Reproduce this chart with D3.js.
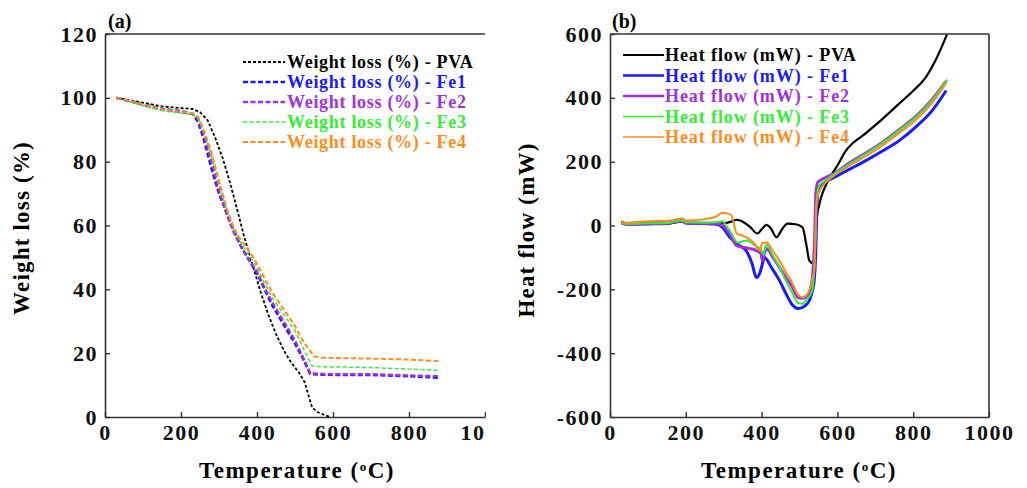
<!DOCTYPE html>
<html>
<head>
<meta charset="utf-8">
<script src="https://cdn.jsdelivr.net/npm/d3@7"></script>
<style>
body { margin: 0; background: #fff; }
svg text { font-family: "Liberation Serif", "DejaVu Serif", serif !important; font-weight: bold; }
</style>
</head>
<body>
<svg width="1027" height="488" font-family="Liberation Serif"></svg>
<script>
// ---- data ----
var xTicks = [0, 200, 400, 600, 800, 1000];
var wlTicks = [0, 20, 40, 60, 80, 100, 120];
var hfTicks = [-600, -400, -200, 0, 200, 400, 600];

var names = ["PVA", "Fe1", "Fe2", "Fe3", "Fe4"];
var colors = ["#000000", "#1a1aff", "#a030e0", "#33ee33", "#ff8c1a"];

// weight loss (%) vs temperature (C)
var wlPVA = [[30,100],[100,98.5],[150,97.3],[200,96.8],[230,96.5],[250,95.5],[270,93],[290,87.5],[310,81],[330,73],[350,64],[365,57],[380,51],[395,45],[410,39],[430,32],[450,26],[470,21],[490,17],[510,14],[525,11],[535,7],[545,3],[560,1.5],[580,0.5],[592,0]];
var wlFe1 = [[30,100],[100,98],[150,96.5],[200,95.8],[230,95],[245,92.5],[260,87],[280,78],[300,70],[320,64],[340,58],[360,53],[380,49],[400,45],[420,40],[440,35],[460,31],[480,27],[500,23],[520,18.5],[540,13.5],[560,13.3],[600,13.2],[700,13.2],[800,12.8],[880,12.3]];
var wlFe2 = [[30,100],[100,97.8],[150,96.3],[200,95.5],[230,95],[245,93.5],[260,88.5],[280,80],[300,71],[320,63.5],[340,57.5],[360,53],[380,49],[400,45.5],[420,40.5],[440,36],[460,32],[480,28],[500,24],[520,19],[540,13.8],[560,13.5],[600,13.4],[700,13.4],[800,13],[880,12.8]];
var wlFe3 = [[30,100],[100,97.5],[150,96],[200,95.2],[230,94.8],[245,93.5],[260,89.5],[280,82],[300,73],[320,65],[340,58.5],[360,54],[380,50.5],[400,47],[420,42],[440,37.5],[460,34],[480,30.5],[500,27],[520,22],[545,16],[560,15.8],[600,15.7],[700,15.5],[800,15],[880,14.6]];
var wlFe4 = [[30,100],[100,98],[150,96.5],[200,95.6],[230,95.2],[245,94],[260,90],[280,83],[300,74],[320,65.5],[340,59],[360,55],[380,52],[400,48],[420,43.5],[440,39],[460,35.5],[480,32],[500,28.5],[520,24],[550,19],[570,18.6],[600,18.5],[700,18.3],[800,18],[880,17.5]];

// heat flow (mW) vs temperature (C)
var hfPVA = [[30,12],[50,5],[100,5],[150,6],[190,12],[200,8],[250,6],[300,7],[320,12],[335,18],[350,12],[370,-5],[389,-25],[400,-12],[413,2],[425,-10],[439,-37],[455,-10],[468,6],[490,4],[508,-6],[518,-60],[526,-110],[535,-118],[540,-90],[544,6],[553,70],[562,105],[571,130],[585,160],[597,182],[623,235],[676,290],[720,335],[763,382],[800,422],[834,466],[860,520],[889,598]];
var hfFe1 = [[30,8],[50,4],[100,5],[150,6],[190,15],[200,8],[250,6],[280,4],[297,-6],[316,-37],[342,-63],[360,-80],[375,-120],[386,-163],[395,-150],[400,-130],[408,-100],[425,-130],[447,-172],[465,-215],[482,-250],[495,-260],[505,-258],[516,-250],[526,-235],[535,-200],[539,-170],[543,-80],[546,60],[549,115],[560,130],[587,148],[630,175],[676,204],[720,234],[763,266],[810,312],[850,360],[887,423]];
var hfFe2 = [[30,8],[50,4],[100,6],[150,7],[190,14],[200,8],[250,7],[280,6],[300,-2],[315,-25],[334,-63],[350,-68],[368,-72],[385,-78],[398,-88],[402,-110],[408,-85],[413,-72],[430,-100],[447,-131],[465,-165],[482,-194],[495,-225],[508,-228],[518,-222],[526,-210],[535,-150],[540,-40],[543,100],[548,135],[565,148],[587,160],[630,195],[676,228],[720,262],[763,300],[810,345],[850,395],[887,452]];
var hfFe3 = [[30,6],[50,5],[100,7],[150,8],[190,16],[200,10],[250,9],[280,10],[297,13],[306,0],[316,-16],[337,-53],[360,-47],[380,-60],[400,-78],[405,-92],[410,-65],[413,-60],[430,-95],[447,-131],[465,-175],[482,-213],[495,-242],[508,-245],[520,-230],[532,-210],[538,-160],[542,-50],[545,80],[552,125],[570,142],[587,158],[630,192],[676,225],[720,260],[763,298],[810,342],[850,392],[890,457]];
var hfFe4 = [[30,15],[35,9],[60,10],[100,13],[150,15],[192,22],[200,16],[250,20],[280,28],[297,40],[310,38],[321,31],[334,-25],[350,-32],[360,-37],[380,-55],[395,-78],[402,-55],[413,-53],[430,-80],[447,-110],[465,-148],[482,-182],[495,-215],[508,-225],[518,-218],[526,-204],[535,-160],[539,-141],[543,0],[546,80],[552,105],[570,135],[587,152],[630,186],[676,218],[720,252],[763,290],[810,334],[850,384],[887,447]];

var wlSeries = [wlPVA, wlFe1, wlFe2, wlFe3, wlFe4];
var hfSeries = [hfPVA, hfFe1, hfFe2, hfFe3, hfFe4];

var svg = d3.select("svg");
var axisColor = "#333";
var serif = "'Liberation Serif', 'DejaVu Serif', serif";
var plainNum = function(d) { return String(d); }; // hyphen minus like the original

// scales
var xA = d3.scaleLinear().domain([0, 1000]).range([105, 485]);
var yA = d3.scaleLinear().domain([0, 120]).range([417, 34]);
var xB = d3.scaleLinear().domain([0, 1000]).range([610, 989]);
var yB = d3.scaleLinear().domain([-600, 600]).range([417, 34]);

var defs = svg.append("defs");
defs.append("clipPath").attr("id", "panelA").append("rect")
    .attr("x", 0).attr("y", 0).attr("width", 486).attr("height", 488);
defs.append("clipPath").attr("id", "plotA").append("rect")
    .attr("x", 105).attr("y", 34).attr("width", 380).attr("height", 383);
defs.append("clipPath").attr("id", "plotB").append("rect")
    .attr("x", 610).attr("y", 34).attr("width", 379).attr("height", 383);

function styleAxis(g) {
  g.attr("font-family", serif).attr("font-weight", "bold");
  g.selectAll(".domain").attr("stroke", axisColor).attr("stroke-width", 1.6);
  g.selectAll(".tick line").attr("stroke", axisColor).attr("stroke-width", 1.4);
  g.selectAll(".tick text")
   .attr("fill", "#111")
   .style("font-size", "22px")
   .style("letter-spacing", "1.5px");
}

function axes(g, x, y, yTicks, closed) {
  var y0 = y.range()[0], y1 = y.range()[1];
  g.append("g")
   .attr("transform", "translate(0," + y0 + ")")
   .call(d3.axisBottom(x).tickValues(xTicks).tickFormat(plainNum)
         .tickSizeInner(-5).tickSizeOuter(0).tickPadding(7))
   .call(styleAxis);
  g.append("g")
   .attr("transform", "translate(" + x.range()[0] + ",0)")
   .call(d3.axisLeft(y).tickValues(yTicks).tickFormat(plainNum)
         .tickSizeInner(-5).tickSizeOuter(0).tickPadding(7))
   .call(styleAxis);
  g.append("line")
   .attr("x1", x.range()[0]).attr("x2", x.range()[1])
   .attr("y1", y1).attr("y2", y1)
   .attr("stroke", axisColor).attr("stroke-width", 1.6);
  if (closed) {
    g.append("line")
     .attr("x1", x.range()[1]).attr("x2", x.range()[1])
     .attr("y1", y1).attr("y2", y0)
     .attr("stroke", axisColor).attr("stroke-width", 1.6);
  }
}

// ---------- panel (a) ----------
var gA = svg.append("g").attr("clip-path", "url(#panelA)");
axes(gA, xA, yA, wlTicks, false);

var dashA = ["3,2", "5,2.5", "5,2.5", "4,2.5", "5,2.5"];
var widthA = [1.8, 2.6, 2.4, 1.5, 2.0];

var lineA = d3.line().x(function(d) { return xA(d[0]); }).y(function(d) { return yA(d[1]); });
gA.append("g").attr("clip-path", "url(#plotA)")
  .selectAll("path")
  .data(wlSeries)
  .enter()
  .append("path")
  .attr("d", lineA)
  .attr("fill", "none")
  .attr("stroke", function(d, i) { return colors[i]; })
  .attr("stroke-width", function(d, i) { return widthA[i]; })
  .attr("stroke-dasharray", function(d, i) { return dashA[i]; });

var legA = gA.append("g").selectAll("g")
  .data(names)
  .enter()
  .append("g")
  .attr("transform", function(d, i) { return "translate(243," + (62 + i * 20) + ")"; });
legA.append("line")
  .attr("x1", 0).attr("x2", 42)
  .attr("stroke", function(d, i) { return colors[i]; })
  .attr("stroke-width", function(d, i) { return widthA[i]; })
  .attr("stroke-dasharray", function(d, i) { return dashA[i]; });
legA.append("text")
  .attr("x", 44).attr("dy", "0.35em")
  .attr("font-family", serif).attr("font-weight", "bold")
  .style("font-size", "18px").style("letter-spacing", "0.7px")
  .attr("fill", function(d, i) { return colors[i]; })
  .text(function(d) { return "Weight loss (%) - " + d; });

gA.append("text").attr("x", 108).attr("y", 28)
  .attr("font-family", serif).attr("font-weight", "bold")
  .style("font-size", "20px").text("(a)");
gA.append("text")
  .attr("x", 297).attr("y", 478)
  .attr("text-anchor", "middle")
  .attr("font-family", serif).attr("font-weight", "bold")
  .style("font-size", "23px").style("letter-spacing", "1.5px")
  .html("Temperature (<tspan baseline-shift='super' font-size='13px'>o</tspan>C)");
gA.append("text")
  .attr("transform", "translate(29,228) rotate(-90)")
  .attr("text-anchor", "middle")
  .attr("font-family", serif).attr("font-weight", "bold")
  .style("font-size", "23px").style("letter-spacing", "1.2px")
  .text("Weight loss (%)");

// ---------- panel (b) ----------
var gB = svg.append("g");
axes(gB, xB, yB, hfTicks, true);

var widthB = [1.8, 2.6, 2.6, 1.6, 1.6];
var lineB = d3.line()
  .x(function(d) { return xB(d[0]); })
  .y(function(d) { return yB(d[1]); })
  .curve(d3.curveMonotoneX);
gB.append("g").attr("clip-path", "url(#plotB)")
  .selectAll("path")
  .data(hfSeries)
  .enter()
  .append("path")
  .attr("d", lineB)
  .attr("fill", "none")
  .attr("stroke", function(d, i) { return colors[i]; })
  .attr("stroke-width", function(d, i) { return widthB[i] + 0.4; })
  .attr("stroke-linejoin", "round");

var legB = gB.append("g").selectAll("g")
  .data(names)
  .enter()
  .append("g")
  .attr("transform", function(d, i) { return "translate(623," + (55 + i * 20.5) + ")"; });
legB.append("line")
  .attr("x1", 0).attr("x2", 41)
  .attr("stroke", function(d, i) { return colors[i]; })
  .attr("stroke-width", function(d, i) { return widthB[i]; });
legB.append("text")
  .attr("x", 42).attr("dy", "0.35em")
  .attr("font-family", serif).attr("font-weight", "bold")
  .style("font-size", "18px").style("letter-spacing", "0.9px")
  .attr("fill", function(d, i) { return colors[i]; })
  .text(function(d) { return "Heat flow (mW) - " + d; });

gB.append("text").attr("x", 612).attr("y", 28)
  .attr("font-family", serif).attr("font-weight", "bold")
  .style("font-size", "20px").text("(b)");
gB.append("text")
  .attr("x", 799).attr("y", 478)
  .attr("text-anchor", "middle")
  .attr("font-family", serif).attr("font-weight", "bold")
  .style("font-size", "23px").style("letter-spacing", "1.5px")
  .html("Temperature (<tspan baseline-shift='super' font-size='13px'>o</tspan>C)");
gB.append("text")
  .attr("transform", "translate(534,230) rotate(-90)")
  .attr("text-anchor", "middle")
  .attr("font-family", serif).attr("font-weight", "bold")
  .style("font-size", "23px").style("letter-spacing", "1.2px")
  .text("Heat flow (mW)");
</script>
</body>
</html>
